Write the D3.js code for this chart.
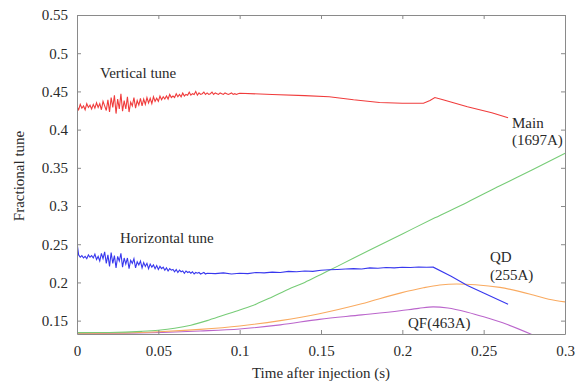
<!DOCTYPE html>
<html>
<head>
<meta charset="utf-8">
<script src="https://cdn.jsdelivr.net/npm/d3@7"></script>
<style>
  body { margin: 0; background: #fff; }
  text { font-family: "Liberation Serif", "Times New Roman", serif; fill: #2a2a2a; }
</style>
</head>
<body>
<svg id="chart" width="577" height="384"></svg>
<script>
// x ticks / y ticks
var xTicks = [0, 0.05, 0.1, 0.15, 0.2, 0.25, 0.3];
var yTicks = [0.15, 0.2, 0.25, 0.3, 0.35, 0.4, 0.45, 0.5, 0.55];

// dense part of the measured tunes, one value per ms from t=0
var dt = 0.001;
var verticalDense = [
  .430, .426, .433, .428, .431, .426, .434, .429, .432, .427,
  .433, .428, .435, .429, .434, .426, .437, .431, .425, .439,
  .423, .442, .429, .445, .421, .440, .427, .447, .424, .438,
  .427, .443, .423, .436, .431, .442, .428, .438, .432, .441,
  .431, .440, .433, .442, .435, .441, .434, .443, .437, .441,
  .437, .444, .439, .443, .440, .444, .440, .446, .442, .444,
  .442, .447, .443, .446, .443, .448, .444, .446, .445, .449,
  .445, .447, .446, .450, .445, .448, .446, .447, .449, .446,
  .448, .446, .447, .449, .446, .448, .447, .446, .448, .447,
  .446, .448, .447, .446, .447, .448, .446, .447, .446, .447
];
// slower part [t, tune]
var verticalTail = [
  [0.10, 0.4475], [0.12, 0.446], [0.14, 0.4445], [0.155, 0.443], [0.17, 0.439],
  [0.186, 0.4355], [0.20, 0.4345], [0.213, 0.4345], [0.217, 0.438], [0.220, 0.442],
  [0.225, 0.439], [0.24, 0.430], [0.255, 0.422], [0.265, 0.4155]
];

var horizontalDense = [
  .252, .236, .233, .235, .232, .234, .231, .236, .233, .235,
  .232, .237, .230, .234, .228, .238, .231, .240, .225, .236,
  .221, .239, .225, .235, .219, .234, .228, .238, .220, .232,
  .224, .232, .218, .229, .225, .231, .219, .227, .223, .228,
  .219, .226, .221, .225, .218, .224, .220, .223, .218, .222,
  .217, .221, .218, .220, .216, .219, .215, .218, .216, .217,
  .214, .217, .213, .216, .214, .215, .212, .215, .213, .214,
  .212, .214, .211, .213, .212, .213, .211, .212, .213, .211
];
var horizontalTail = [
  [0.08, 0.212], [0.085, 0.2115], [0.09, 0.2125], [0.095, 0.211], [0.10, 0.212],
  [0.105, 0.2115], [0.11, 0.213], [0.115, 0.2125], [0.12, 0.2135], [0.125, 0.213],
  [0.13, 0.2145], [0.135, 0.214], [0.14, 0.215], [0.145, 0.2145], [0.15, 0.216],
  [0.155, 0.2165], [0.16, 0.217], [0.165, 0.2175], [0.17, 0.218], [0.175, 0.2175],
  [0.18, 0.219], [0.185, 0.2185], [0.19, 0.2195], [0.195, 0.219], [0.20, 0.2198],
  [0.205, 0.2195], [0.21, 0.2202], [0.215, 0.2198], [0.219, 0.220], [0.23, 0.208],
  [0.24, 0.196], [0.25, 0.186], [0.265, 0.1713]
];

// magnet currents (scaled onto tune axis)
var mainCurrent = [
  [0, 0.1343], [0.02, 0.1345], [0.04, 0.136], [0.05, 0.1375], [0.06, 0.140],
  [0.07, 0.144], [0.08, 0.150], [0.09, 0.157], [0.10, 0.164], [0.11, 0.1715],
  [0.12, 0.181], [0.13, 0.191], [0.14, 0.200], [0.15, 0.2105], [0.16, 0.221],
  [0.18, 0.2425], [0.20, 0.2635], [0.22, 0.2845], [0.24, 0.305], [0.26, 0.3265],
  [0.28, 0.3475], [0.30, 0.369]
];
var qdCurrent = [
  [0, 0.1335], [0.03, 0.134], [0.05, 0.1355], [0.0756, 0.1386], [0.10, 0.143],
  [0.125, 0.150], [0.149, 0.159], [0.175, 0.172], [0.1986, 0.186], [0.213, 0.193],
  [0.223, 0.1966], [0.2335, 0.198], [0.245, 0.197], [0.26, 0.1935], [0.2805, 0.1835],
  [0.29, 0.178], [0.30, 0.1745]
];
var qfCurrent = [
  [0, 0.133], [0.03, 0.1335], [0.0756, 0.1364], [0.10, 0.139], [0.125, 0.1445],
  [0.149, 0.1517], [0.175, 0.1575], [0.1986, 0.163], [0.21, 0.166], [0.219, 0.168],
  [0.228, 0.1665], [0.24, 0.161], [0.25, 0.155], [0.265, 0.1445], [0.2805, 0.131]
];

var svg = d3.select("#chart");
var x = d3.scaleLinear().domain([0, 0.3]).range([77, 565]);
var y = d3.scaleLinear().domain([0.1325, 0.55]).range([334, 15]);

//turn dense array into [t, v] pairs and join the tail
var withTime = function(dense, tail) {
  return dense.map(function(v, i) { return [i * dt, v]; }).concat(tail);
};

svg.append("clipPath").attr("id", "plot")
  .append("rect").attr("x", 77).attr("y", 15).attr("width", 488).attr("height", 319);

var line = d3.line()
  .x(function(d) { return x(d[0]); })
  .y(function(d) { return y(d[1]); });
var smooth = d3.line()
  .x(function(d) { return x(d[0]); })
  .y(function(d) { return y(d[1]); })
  .curve(d3.curveMonotoneX);

var series = [
  { data: qfCurrent, color: "#bb66cc", gen: smooth },
  { data: qdCurrent, color: "#f9aa60", gen: smooth },
  { data: mainCurrent, color: "#77cc77", gen: smooth },
  { data: withTime(horizontalDense, horizontalTail), color: "#3838ee", gen: line },
  { data: withTime(verticalDense, verticalTail), color: "#f03c3c", gen: line }
];

svg.append("g").attr("clip-path", "url(#plot)")
  .selectAll("path").data(series).enter().append("path")
  .attr("d", function(s) { return s.gen(s.data); })
  .attr("fill", "none")
  .attr("stroke", function(s) { return s.color; })
  .attr("stroke-width", 1.1);

// frame + inward ticks
var frame = "#8a8a8a";
svg.append("g").attr("transform", "translate(0,334)")
  .call(d3.axisBottom(x).tickValues(xTicks).tickSizeInner(-4).tickSizeOuter(0)
    .tickPadding(11).tickFormat(d3.format("")));
svg.append("g").attr("transform", "translate(77,0)")
  .call(d3.axisLeft(y).tickValues(yTicks).tickSizeInner(-4).tickSizeOuter(0)
    .tickPadding(9).tickFormat(d3.format("")));
svg.append("g").attr("transform", "translate(0,15)")
  .call(d3.axisTop(x).tickValues(xTicks).tickSizeInner(-4).tickSizeOuter(0).tickFormat(""));
svg.append("g").attr("transform", "translate(565,0)")
  .call(d3.axisRight(y).tickValues(yTicks).tickSizeInner(-4).tickSizeOuter(0).tickFormat(""));
svg.selectAll(".domain, .tick line").attr("stroke", frame);
svg.selectAll(".tick text")
  .attr("font-family", "Liberation Serif, serif")
  .attr("font-size", 15).attr("fill", "#2a2a2a");

// labels
var labels = [
  { t: "Vertical tune", x: 100, y: 78 },
  { t: "Horizontal tune", x: 120, y: 243 },
  { t: "Main", x: 512, y: 128 },
  { t: "(1697A)", x: 512, y: 145 },
  { t: "QD", x: 490, y: 262 },
  { t: "(255A)", x: 490, y: 280 },
  { t: "QF(463A)", x: 408, y: 328 }
];
svg.selectAll("text.lab").data(labels).enter().append("text")
  .attr("class", "lab")
  .attr("x", function(d) { return d.x; })
  .attr("y", function(d) { return d.y; })
  .attr("font-size", 15)
  .text(function(d) { return d.t; });

svg.append("text").attr("x", 321).attr("y", 378)
  .attr("text-anchor", "middle").attr("font-size", 15)
  .text("Time after injection (s)");
svg.append("text").attr("transform", "translate(24,176) rotate(-90)")
  .attr("text-anchor", "middle").attr("font-size", 15)
  .text("Fractional tune");
</script>
</body>
</html>
